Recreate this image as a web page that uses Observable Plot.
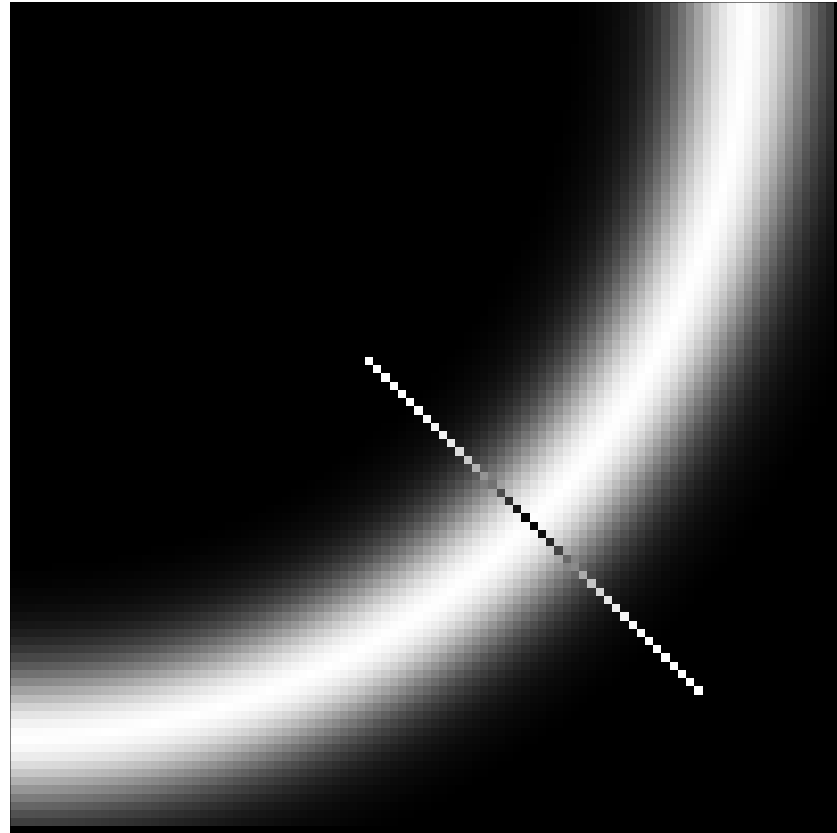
<!DOCTYPE html>
<html>
<head>
<meta charset="utf-8">
<script src="https://cdn.jsdelivr.net/npm/d3@7"></script>
<script src="https://cdn.jsdelivr.net/npm/@observablehq/plot@0.6"></script>
<style>
  html, body { margin: 0; padding: 0; background: #ffffff; }
  #frame { position: absolute; left: 10px; top: 2px; width: 827px; height: 831px; background: #000000; }
  #frame svg { display: block; }
</style>
</head>
<body>
<div id="frame"></div>
<script>
// Grid size (cells per side)
const gridSize = 100;
// Ring: centred on the top-left corner of the grid, radius in cells
const ringCenter = [0, 0];
const ringRadius = 89.3;
// Brightness read across the ring band, by distance (cells) from the ring's crest
const ringProfile = [1.00, 0.98, 0.94, 0.88, 0.80, 0.71, 0.61, 0.51, 0.42, 0.33, 0.26, 0.20, 0.15, 0.11, 0.08, 0.06, 0.04, 0.03, 0.02, 0.01, 0.005, 0];
// Diagonal probe line (cells i == j from lineStart to lineEnd), drawn inverted
const lineStart = 43;
const lineEnd = 83;

function ringValue(i, j) {
  const x = j + 0.5 - ringCenter[0], y = i + 0.5 - ringCenter[1];
  const d = Math.abs(Math.hypot(x, y) - ringRadius);
  const k = Math.floor(d);
  if (k >= ringProfile.length - 1) return 0;
  const t = d - k;
  return ringProfile[k] * (1 - t) + ringProfile[k + 1] * t;
}

const values = [];
for (let i = 0; i < gridSize; i++) {
  for (let j = 0; j < gridSize; j++) {
    let v = ringValue(i, j);
    if (i === j && i >= lineStart && i <= lineEnd) v = 1 - v;
    values.push(v);
  }
}

const size = 824;
const chart = Plot.plot({
  width: size,
  height: size,
  margin: 0,
  style: { background: "#000000" },
  x: { domain: [0, gridSize], range: [0, size], axis: null },
  y: { domain: [0, gridSize], range: [0, size], axis: null },
  color: { type: "linear", domain: [0, 1], range: ["#000000", "#ffffff"] },
  marks: [
    Plot.raster(values, {
      width: gridSize,
      height: gridSize,
      x1: 0, y1: 0, x2: gridSize, y2: gridSize,
      fill: d => d,
      imageRendering: "pixelated"
    })
  ]
});
document.getElementById("frame").appendChild(chart);
</script>
</body>
</html>
